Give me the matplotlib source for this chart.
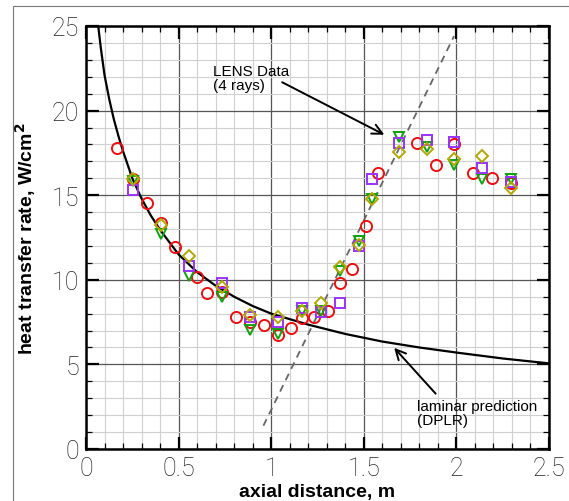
import matplotlib
matplotlib.use("Agg")
import matplotlib.pyplot as plt
from matplotlib.ticker import MultipleLocator
from matplotlib.patches import Rectangle

# Laminar prediction (DPLR) curve
lam_x = [0.066, 0.08, 0.10, 0.125, 0.15, 0.175, 0.2, 0.25, 0.3, 0.35, 0.4, 0.5, 0.6, 0.7,
         0.8, 0.9, 1.0, 1.2, 1.4, 1.6, 1.8, 2.0, 2.25, 2.5]
lam_y = [25.0, 23.7, 22.1, 20.7, 19.5, 18.5, 17.6, 16.0, 14.8, 13.8, 12.95, 11.5, 10.45, 9.65,
         9.0, 8.45, 8.0, 7.35, 6.8, 6.35, 6.0, 5.7, 5.35, 5.06]

# Dashed transition line
dash_x = [0.958, 1.987]
dash_y = [1.38, 24.4]

# LENS data, 4 rays
red_x = [0.170, 0.253, 0.329, 0.406, 0.480, 0.600, 0.654, 0.735, 0.811, 0.886, 0.962, 1.036,
         1.109, 1.164, 1.232, 1.305, 1.371, 1.438, 1.511, 1.579, 1.789, 1.889, 1.989, 2.089,
         2.192, 2.296]
red_y = [17.81, 15.93, 14.53, 13.33, 11.91, 10.16, 9.21, 9.29, 7.78, 7.52, 7.34, 6.75,
         7.17, 7.74, 7.81, 8.17, 9.80, 10.61, 13.17, 16.34, 18.07, 16.79, 18.03, 16.30,
         16.04, 15.75]

pur_x = [0.255, 0.554, 0.735, 0.886, 1.036, 1.164, 1.268, 1.371, 1.473, 1.542, 1.689, 1.842,
         1.989, 2.139, 2.296]
pur_y = [15.31, 10.83, 9.82, 7.83, 7.48, 8.31, 8.07, 8.60, 12.01, 15.94, 18.11, 18.27,
         18.17, 16.59, 15.80]

grn_x = [0.255, 0.406, 0.554, 0.735, 0.886, 1.036, 1.164, 1.268, 1.371, 1.473, 1.542, 1.689,
         1.842, 1.989, 2.139, 2.296]
grn_y = [15.85, 12.70, 10.20, 8.96, 7.03, 6.79, 8.17, 8.13, 10.53, 12.30, 14.80, 18.44,
         17.87, 16.79, 15.98, 15.94]

olv_x = [0.255, 0.406, 0.554, 0.735, 0.886, 1.036, 1.164, 1.268, 1.371, 1.473, 1.542, 1.689,
         1.842, 1.989, 2.139, 2.296]
olv_y = [15.96, 13.23, 11.40, 9.55, 7.91, 7.78, 8.13, 8.60, 10.73, 12.07, 14.80, 17.58,
         17.76, 17.13, 17.32, 15.45]

x_ticks = [0, 0.5, 1, 1.5, 2, 2.5]
x_tick_labels = ["0", "0.5", "1", "1.5", "2", "2.5"]
y_ticks = [0, 5, 10, 15, 20, 25]
y_tick_labels = ["0", "5", "10", "15", "20", "25"]

plt.rcParams["font.family"] = ["Liberation Sans", "DejaVu Sans"]

fig = plt.figure(figsize=(5.69, 5.02), dpi=100)
# outer frame (left/top visible)
fig.patches.append(Rectangle((13 / 569, -0.01), 1.0, 1 - 7 / 502 + 0.01,
                             transform=fig.transFigure, fill=False,
                             edgecolor="#777777", linewidth=0.8))

ax = fig.add_axes([86 / 569, 52 / 502, 463 / 569, 423 / 502])
ax.set_xlim(0, 2.5)
ax.set_ylim(0, 25)

ax.xaxis.set_minor_locator(MultipleLocator(0.1))
ax.yaxis.set_minor_locator(MultipleLocator(1))
ax.grid(which="minor", color="#d0d0d0", linewidth=0.8)
ax.grid(which="major", color="#555555", linewidth=0.9)
ax.set_axisbelow(True)

ax.plot(lam_x, lam_y, color="black", linewidth=1.6, zorder=3)
ax.plot(dash_x, dash_y, color="#666666", linewidth=1.3, linestyle=(0, (4, 3)), zorder=3)

mk = dict(linestyle="none", markerfacecolor="none", markeredgewidth=1.4, zorder=4)
ax.plot(red_x, red_y, marker="o", markeredgecolor="#e81010", markersize=8, **mk)
ax.plot(grn_x, grn_y, marker="v", markeredgecolor="#10a010", markersize=7, **mk)
ax.plot(pur_x, pur_y, marker="s", markeredgecolor="#9933ff", markersize=6.5, **mk)
ax.plot(olv_x, olv_y, marker="D", markeredgecolor="#b0a800", markersize=6, **mk)

for s in ax.spines.values():
    s.set_linewidth(1.8)

ax.set_xticks(x_ticks)
ax.set_xticklabels(x_tick_labels)
ax.set_yticks(y_ticks)
ax.set_yticklabels(y_tick_labels)
ax.tick_params(which="major", direction="in", length=9, width=1.6, top=True, right=True,
               labelsize=18, pad=5)
ax.tick_params(which="minor", direction="in", length=4, width=0.9, top=True, right=True)
for lab in ax.get_xticklabels() + ax.get_yticklabels():
    lab.set_family(["Roboto", "DejaVu Sans"])
    lab.set_fontweight("light")
    lab.set_color("#222222")

ax.set_xlabel("axial distance, m", fontsize=14, fontweight="bold", labelpad=2)
ax.set_ylabel("heat transfer rate, W/cm$^\\mathbf{2}$", fontsize=14, fontweight="bold",
              labelpad=10)

ax.annotate("", xy=(1.624, 18.5), xytext=(1.046, 21.75),
            arrowprops=dict(arrowstyle="->", color="black", lw=1.4, mutation_scale=18), zorder=5)
ax.text(0.684, 22.75, "LENS Data\n(4 rays)", fontsize=11, va="top", ha="left",
        linespacing=0.95, zorder=5)

ax.annotate("", xy=(1.654, 6.10), xytext=(1.898, 3.15),
            arrowprops=dict(arrowstyle="->", color="black", lw=1.4, mutation_scale=18), zorder=5)
ax.text(1.785, 2.95, "laminar prediction\n(DPLR)", fontsize=11, va="top", ha="left",
        linespacing=0.95, zorder=5)

fig.savefig("out.png", dpi=100)
